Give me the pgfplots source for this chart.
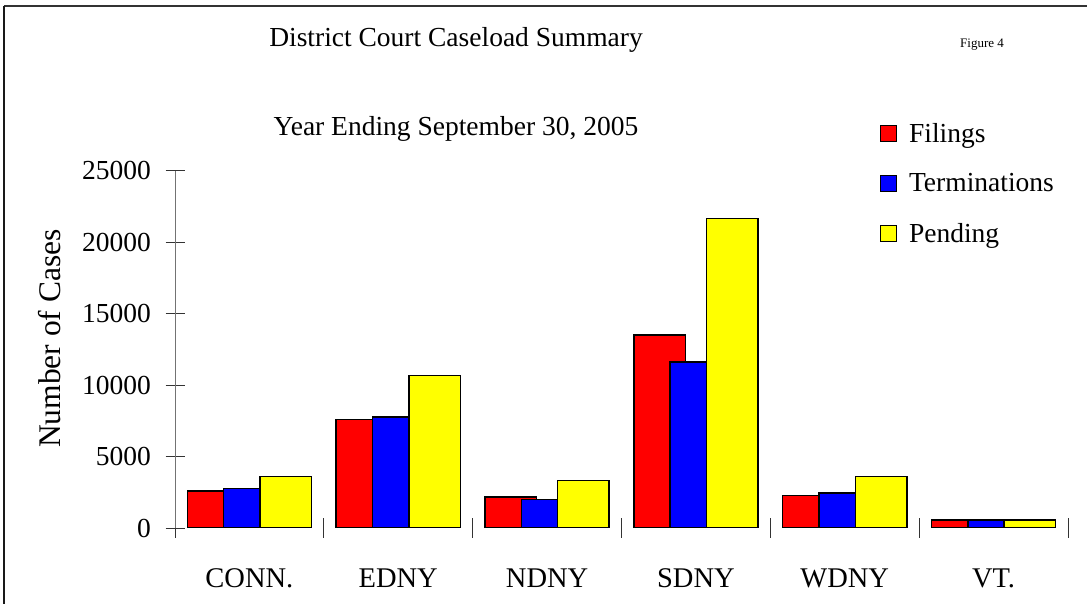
\documentclass[border=0pt]{standalone}
\usepackage{fontspec}
\setmainfont{Liberation Serif}
\usepackage{pgfplots}
\pgfplotsset{compat=1.18}
\definecolor{fred}{RGB}{255,0,0}
\definecolor{fblue}{RGB}{0,0,255}
\definecolor{fyellow}{RGB}{255,255,0}
\begin{document}
\begin{tikzpicture}[x=1bp,y=1bp]
\useasboundingbox (0,0) rectangle (1087,604);
\draw[line width=1.5bp, black!80] (4,598) -- (1087,598);
\draw[line width=1.5bp, black!90] (4,598) -- (4,0);
\node[font=\fontsize{27.5bp}{30bp}\selectfont] at (456,564) {District Court Caseload Summary};
\node[font=\fontsize{27.5bp}{30bp}\selectfont] at (456,475) {Year Ending September 30, 2005};
\node[font=\fontsize{13bp}{15bp}\selectfont] at (982,559) {Figure 4};
\begin{axis}[
  at={(175bp,76bp)}, anchor=south west,
  scale only axis, width=893bp, height=357.3bp,
  ybar,
  xmin=-0.5, xmax=5.5, ymin=0, ymax=25000,
  axis line style={draw=none},
  xtick pos=bottom, ytick pos=left,
  xtick={0,1,2,3,4,5},
  xticklabels={CONN., EDNY, NDNY, SDNY, WDNY, VT.},
  minor xtick={-0.5,0.5,1.5,2.5,3.5,4.5,5.5},
  ytick={0,5000,10000,15000,20000,25000},
  tick align=center, xtick align=center, ytick align=center,
  major tick length=19bp,
  minor tick length=20bp,
  every tick/.style={black!80, line width=0.8bp},
  x tick style={draw=none},
  minor x tick style={draw=black!80, line width=0.8bp},
  scaled y ticks=false,
  /pgf/number format/assume math mode=true,
  yticklabel={\pgfmathprintnumber[fixed,1000 sep={}]{\tick}},
  ticklabel style={font=\fontsize{27.5bp}{30bp}\selectfont},
  yticklabel style={xshift=-11bp},
  xticklabel style={yshift=-28bp, font=\fontsize{28.5bp}{31bp}\selectfont},
  ylabel={Number of Cases},
  ylabel style={font=\fontsize{31.5bp}{34bp}\selectfont, at={(axis description cs:-0.14,0.530)}, anchor=center},
  legend style={at={(0.789,1.139)}, anchor=north west, draw=none, fill=none,
    font=\fontsize{27.5bp}{30bp}\selectfont, row sep=26bp, inner sep=0pt,
    /tikz/every odd column/.append style={column sep=10bp}},
  legend cell align=left,
  legend image code/.code={\draw[#1, line width=1.3bp] (0bp,-8bp) rectangle (16bp,8bp);},
  bar width=0.346,
]
\draw[black!55, line width=0.8bp] (rel axis cs:0,0) -- (rel axis cs:1,0);
\draw[black!55, line width=0.8bp] (rel axis cs:0,-0.03) -- (rel axis cs:0,1);
\addplot[fill=fred, draw=black, line width=1.4bp, bar shift=-0.244] coordinates {(0,2590) (1,7600) (2,2170) (3,13500) (4,2290) (5,550)};
\addplot[fill=fblue, draw=black, line width=1.4bp, bar shift=0] coordinates {(0,2750) (1,7760) (2,2000) (3,11620) (4,2450) (5,550)};
\addplot[fill=fyellow, draw=black, line width=1.4bp, bar shift=0.244] coordinates {(0,3590) (1,10650) (2,3310) (3,21660) (4,3590) (5,550)};
\legend{Filings, Terminations, Pending}
\end{axis}
\end{tikzpicture}
\end{document}
